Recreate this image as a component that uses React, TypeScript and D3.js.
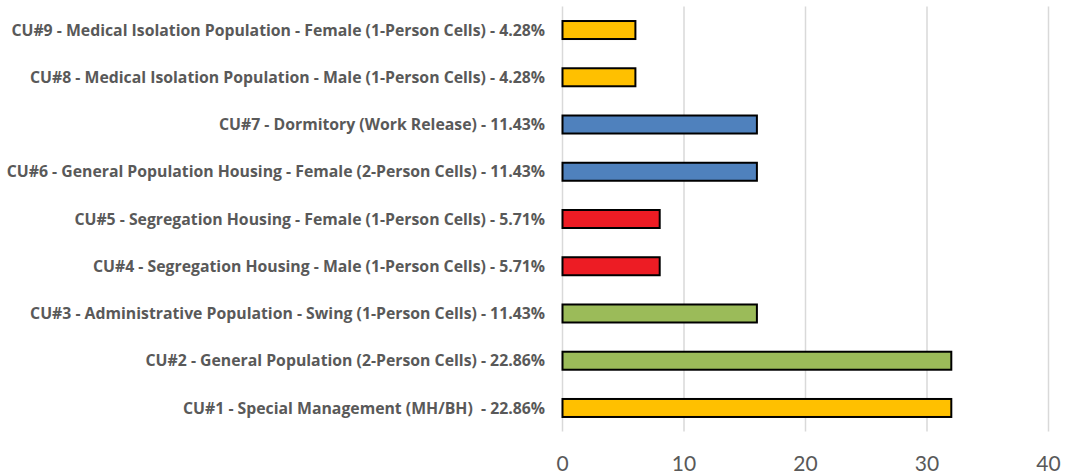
import React from "react";
import * as d3 from "d3";

const categories = [
  "CU#1 - Special Management (MH/BH)  - 22.86%",
  "CU#2 - General Population (2-Person Cells) - 22.86%",
  "CU#3 - Administrative Population - Swing (1-Person Cells) - 11.43%",
  "CU#4 - Segregation Housing - Male (1-Person Cells) - 5.71%",
  "CU#5 - Segregation Housing - Female (1-Person Cells) - 5.71%",
  "CU#6 - General Population Housing - Female (2-Person Cells) - 11.43%",
  "CU#7 - Dormitory (Work Release) - 11.43%",
  "CU#8 - Medical Isolation Population - Male (1-Person Cells) - 4.28%",
  "CU#9 - Medical Isolation Population - Female (1-Person Cells) - 4.28%",
];
const values = [32, 32, 16, 8, 8, 16, 16, 6, 6];
const barColors = ["#FFC000", "#9BBB59", "#9BBB59", "#ED1C24", "#ED1C24", "#4F81BD", "#4F81BD", "#FFC000", "#FFC000"];
const xTicks = [0, 10, 20, 30, 40];

export default function App() {
  const W = 1078, H = 476;
  const x = d3.scaleLinear().domain([0, 40]).range([562.5, 1048.5]);
  const y = d3
    .scaleBand<string>()
    .domain([...categories].reverse())
    .range([6.4, 431.6])
    .paddingInner(0.62)
    .paddingOuter(0.31);
  const tickFont = "Lato, 'Open Sans', sans-serif";
  const labelFont = "'Open Sans', Lato, sans-serif";
  return (
    <svg width={W} height={H} style={{ position: "absolute", left: 0, top: 0, background: "#fff" }}>
      {xTicks.map((t) => (
        <g key={t}>
          <line x1={x(t)} x2={x(t)} y1={6.4} y2={431.6} stroke="#d9d9d9" strokeWidth={1.5} />
          <text x={x(t)} y={471} textAnchor="middle" fontFamily={tickFont} fontSize={21} fill="#595959">
            {t}
          </text>
        </g>
      ))}
      {categories.map((c, i) => {
        const yc = (y(c) as number) + y.bandwidth() / 2;
        return (
          <g key={c}>
            <rect
              x={x(0)}
              y={yc - 9}
              width={x(values[i]) - x(0)}
              height={18}
              fill={barColors[i]}
              stroke="#000"
              strokeWidth={2}
            />
            <text
              x={545}
              y={yc}
              dy="0.35em"
              textAnchor="end"
              fontFamily={labelFont}
              fontWeight="bold"
              fontSize={15.8}
              fill="#595959"
              style={{ whiteSpace: "pre" }}
            >
              {c}
            </text>
          </g>
        );
      })}
    </svg>
  );
}
